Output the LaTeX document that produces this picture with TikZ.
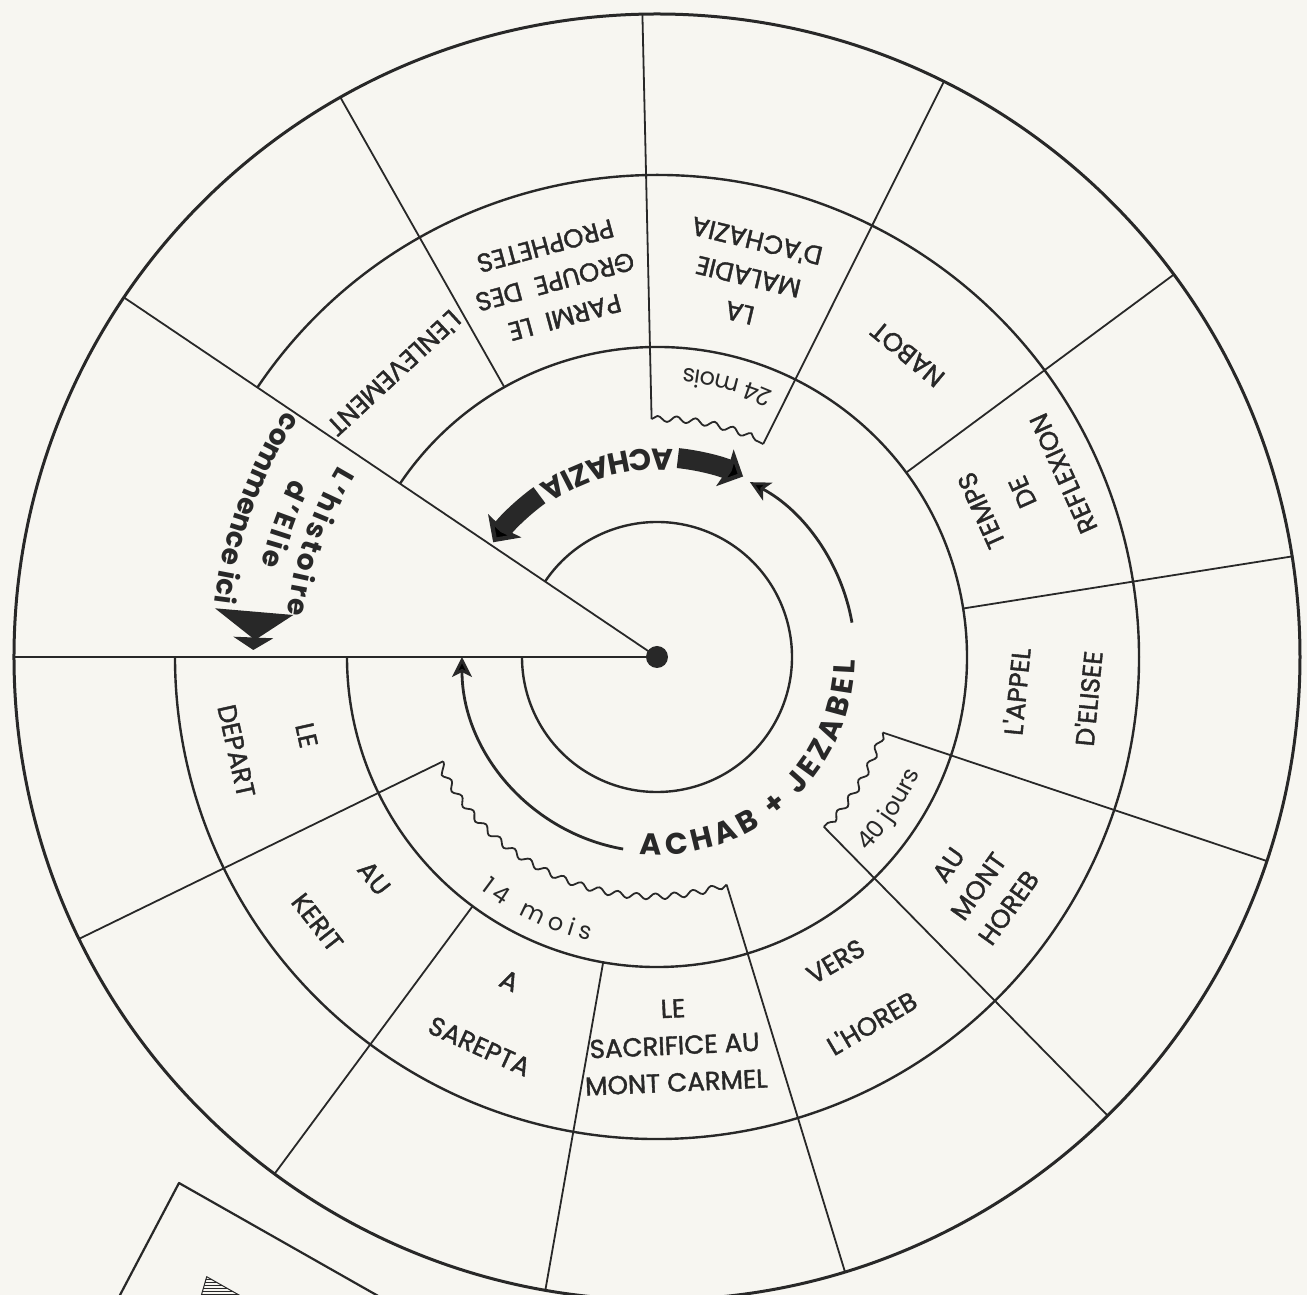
\documentclass[tikz,border=0pt]{standalone}
\usepackage{fontspec}
\setmainfont{Poppins}
\newfontfamily\sectorfont{Poppins}[FakeBold=1.5]
\usetikzlibrary{arrows.meta,decorations.text,decorations.pathmorphing,patterns}

\definecolor{ink}{RGB}{40,40,40}
\definecolor{paper}{RGB}{247,246,241}

\newcommand\boldarc{\fontsize{30}{30}\selectfont\bfseries}
\newcommand\eliearc{\fontsize{28}{28}\selectfont\bfseries}
\newcommand\lightarc{\fontsize{24}{24}\selectfont}

\begin{document}
\begin{tikzpicture}[x=1pt,y=1pt,line join=round,
    ring/.style={draw=ink,line width=2.4pt},
    divider/.style={draw=ink,line width=1.8pt},
    torn/.style={draw=ink,line width=1.8pt,decorate,
        decoration={snake,amplitude=3pt,segment length=19pt}},
    sectortext/.style={text=ink,align=center,inner sep=0pt,
        font=\sectorfont\fontsize{26}{37}\selectfont},
    thinarrow/.style={draw=ink,line width=2.8pt,
        -{Stealth[length=20pt,width=20pt,inset=5pt]}},
    fatarrow/.style={draw=ink,line width=20pt,
        -{Stealth[length=20pt,width=40pt,inset=3pt]}}
]

% Radii
\def\rOut{643}
\def\rMid{482}
\def\rIn{310}
\def\rCore{135}
\def\rCut{238}

% Paper
\fill[paper] (-657,-638) rectangle (650,657);
\useasboundingbox (-657,-638) rectangle (650,657);
\clip (-657,-638) rectangle (650,657);

\coordinate (O) at (0,0);

% Outer disc
\draw[ink,line width=3pt] (O) circle[radius=\rOut];

% Rings, cut open by the pointer
\foreach \r in {\rMid,\rIn,\rCore}
    \draw[ring] (146:\r) arc[start angle=146,end angle=-180,radius=\r];

% Pointer
\draw[divider] (180:\rOut) -- (O) -- (146:\rOut);
\fill[ink] (O) circle[radius=11];

% Sector dividers
\foreach \a in {119.5,36.5,9,-100,-126.5}
    \draw[divider] (\a:\rIn) -- (\a:\rOut);
\foreach \a in {91.3,63.5,-18.5,-45.5,-73,-154}
    \draw[divider] (\a:\rCut) -- (\a:\rOut);

% Torn windows
\draw[torn] (91.3:\rCut) arc[start angle=91.3,end angle=63.5,radius=\rCut];
\draw[torn] (-18.5:\rCut) arc[start angle=-18.5,end angle=-45.5,radius=\rCut];
\draw[torn] (-73:\rCut) arc[start angle=-73,end angle=-154,radius=\rCut];

% --- Sector labels ---
\node[sectortext,rotate=222.8] (enlevement) at (132.8:386) {L'ENLEVEMENT};
\node[sectortext,rotate=195.2] (prophetes) at (105.2:389) {PARMI\ \ LE\\GROUPE\ \ DES\\PROPHETES};
\node[sectortext,rotate=166.5] (maladie) at (76.5:391) {LA\\MALADIE\\D'ACHAZIA};
\node[sectortext,rotate=140.4] (nabot) at (50.4:393) {NABOT};
\node[sectortext,rotate=114.3] (reflexion) at (24.3:401) {TEMPS\\[8pt]DE\\[8pt]REFLEXION};
\node[sectortext,rotate=84.5] (appel) at (-5.5:397) {L'APPEL\\[35pt]D'ELISEE};
\node[sectortext,rotate=54.5] (montHoreb) at (-35.5:395) {AU\\MONT\\HOREB};
\node[sectortext,rotate=30.4] (versHoreb) at (-59.6:389) {VERS\\[35pt]L'HOREB};
\node[sectortext,rotate=2.6] (carmel) at (-87.4:389) {LE\\SACRIFICE AU\\MONT CARMEL};
\node[sectortext,rotate=-24.5] (sarepta) at (-114.5:392) {A\\[35pt]SAREPTA};
\node[sectortext,rotate=-52] (kerit) at (-142:395) {AU\\[35pt]KERIT};
\node[sectortext,rotate=-77.4] (depart) at (-167.4:395) {LE\\[35pt]DEPART};

% --- Window texts ---
\path[decorate,decoration={text along path,text align=center,text color=ink,
    text={|\lightarc|24 mois}}] (60:290) arc[start angle=60,end angle=91,radius=290];
\path[decorate,decoration={text along path,text align=center,text color=ink,
    text={|\lightarc|40 jours}}] (-47:287) arc[start angle=-47,end angle=-19.6,radius=287];
\path[decorate,decoration={text along path,text align={fit to path},text color=ink,
    text={|\lightarc|14 mois}}] (-127.3:292) arc[start angle=-127.3,end angle=-103.4,radius=292];

% --- Reigns ---
\draw[thinarrow] (-100:195) arc[start angle=-100,end angle=-180,radius=195];
\draw[thinarrow] (10:198) arc[start angle=10,end angle=62,radius=198];
\path[decorate,decoration={text along path,text align={fit to path},text color=ink,
    text={|\boldarc|ACHAB + JEZABEL}}] (-95:198) arc[start angle=-95,end angle=-1,radius=198];

\draw[fatarrow] (84:200) arc[start angle=84,end angle=64.5,radius=200];
\draw[fatarrow] (126:200) arc[start angle=126,end angle=145,radius=200];
\path[decorate,decoration={text along path,text align={fit to path},text color=ink,
    text={|\boldarc|ACHAZIA}}] (85.5:208) arc[start angle=85.5,end angle=124.5,radius=208];

% --- Start of the story ---
\path[decorate,decoration={text along path,text align={fit to path},text color=ink,
    text={|\eliearc|L'histoire}}] (149:372) arc[start angle=149,end angle=173.5,radius=372];
\path[decorate,decoration={text along path,text align={fit to path},text color=ink,
    text={|\eliearc|d'Elie}}] (154:406) arc[start angle=154,end angle=167,radius=406];
\path[decorate,decoration={text along path,text align={fit to path},text color=ink,
    text={|\eliearc|commence ici}}] (146.5:446) arc[start angle=146.5,end angle=173,radius=446];
\fill[ink] (-442,48.7) -- (-363.7,42) -- (-402,17) -- cycle;
\fill[ink] (-423.7,20.3) -- (-383.7,18.7) -- (-403.7,7) -- cycle;

% Next card, partly seen
\draw[ink,line width=2.2pt] (-566.5,-694) -- (-478,-526) -- (-136,-720);
\draw[ink,line width=1pt,pattern=horizontal lines,pattern color=ink]
    (-450.3,-619.7) -- (-459,-650) -- (-396.9,-650) -- cycle;

\end{tikzpicture}
\end{document}
